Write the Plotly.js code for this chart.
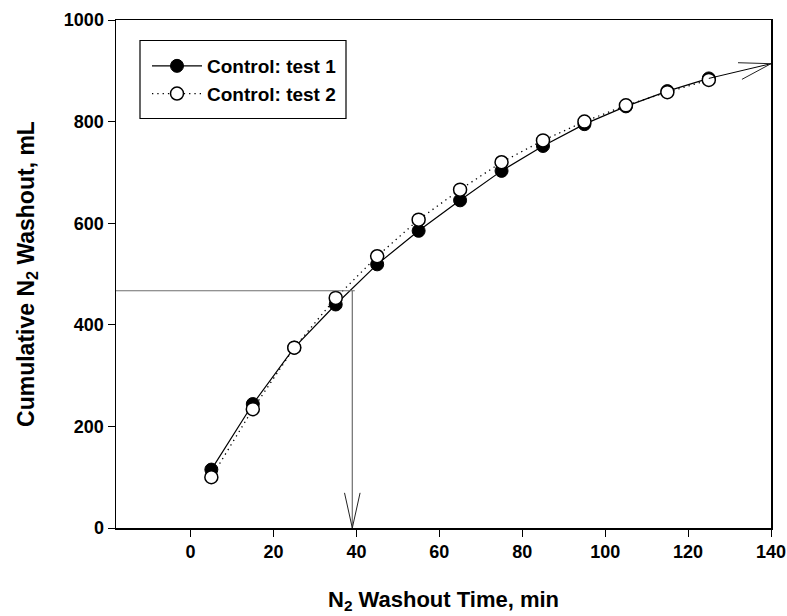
<!DOCTYPE html>
<html>
<head>
<meta charset="utf-8">
<script src="https://cdn.plot.ly/plotly-3.0.1.min.js"></script>
<style>html,body{margin:0;padding:0;background:#fff;}#chart{width:787px;height:616px;}</style>
</head>
<body>
<div id="chart"></div>
<script>
// ---- data ----
var timeMin = [5, 15, 25, 35, 45, 55, 65, 75, 85, 95, 105, 115, 125];
var test1 = [115, 244, 355, 440, 519, 585, 645, 703, 752, 795, 830, 860, 885];
var test2 = [100, 234, 355, 453, 535, 607, 666, 720, 763, 800, 832, 858, 882];
var seriesNames = ["Control: test 1", "Control: test 2"];
var xTicks = [0, 20, 40, 60, 80, 100, 120, 140];
var yTicks = [0, 200, 400, 600, 800, 1000];
// guide lines: half-volume level and its time; extrapolation arrow
var halfVolume = 467;
var halfTime = 39;
var extrapFrom = [125, 885];
var extrapTo = [140, 914];

var xRange = [-18, 140], yRange = [0, 1000];
var M = {l: 116, r: 16, t: 20, b: 88};
var W = 787 - M.l - M.r, H = 616 - M.t - M.b;
var pxX = W / (xRange[1] - xRange[0]), pxY = H / (yRange[1] - yRange[0]);

function barbs(fx, fy, tx, ty, len, ang, color) {
  var dx = (tx - fx) * pxX, dy = (ty - fy) * pxY;
  var d = Math.sqrt(dx * dx + dy * dy);
  var ux = -dx / d, uy = -dy / d;
  var out = [];
  [ang, -ang].forEach(function (a) {
    var r = a * Math.PI / 180;
    var bx = ux * Math.cos(r) - uy * Math.sin(r);
    var by = ux * Math.sin(r) + uy * Math.cos(r);
    out.push({type: 'line', xref: 'x', yref: 'y', x0: tx, y0: ty,
      x1: tx + bx * len / pxX, y1: ty + by * len / pxY,
      line: {color: color, width: 1}});
  });
  return out;
}
function px2paperX(p) { return (p - M.l) / W; }
function px2paperY(p) { return 1 - (p - M.t) / H; }

var font = {family: 'Liberation Sans, Arial, sans-serif', color: '#000', weight: 'bold'};

var traces = [
  {x: timeMin, y: test1, name: seriesNames[0], type: 'scatter', mode: 'lines+markers',
   legendgroup: 'a',
   line: {color: '#000', width: 1.2},
   marker: {symbol: 'circle', size: 13, color: '#000', line: {color: '#000', width: 1}}},
  {x: timeMin, y: test2, name: seriesNames[1], type: 'scatter', mode: 'lines+markers',
   legendgroup: 'b',
   line: {color: '#000', width: 1.3, dash: '1.3px,4px'},
   marker: {symbol: 'circle', size: 13, color: '#fff', line: {color: '#000', width: 1.5}}}
];

var shapes = [
  {type: 'line', xref: 'x', yref: 'y', x0: xRange[0], y0: halfVolume, x1: halfTime + 0.6, y1: halfVolume,
   line: {color: '#6e6e6e', width: 1.2}},
  {type: 'line', xref: 'x', yref: 'y', x0: halfTime, y0: halfVolume, x1: halfTime, y1: 0,
   line: {color: '#6e6e6e', width: 1.2}},
  {type: 'line', xref: 'x', yref: 'y', x0: extrapFrom[0], y0: extrapFrom[1], x1: extrapTo[0], y1: extrapTo[1],
   line: {color: '#000', width: 1}},
  // legend frame
  {type: 'rect', xref: 'paper', yref: 'paper',
   x0: px2paperX(140), x1: px2paperX(346), y0: px2paperY(118.5), y1: px2paperY(40.5),
   line: {color: '#000', width: 1.2}, fillcolor: 'rgba(0,0,0,0)'}
].concat(barbs(halfTime, halfVolume, halfTime, 0, 36, 12.5, '#222'))
 .concat(barbs(extrapFrom[0], extrapFrom[1], extrapTo[0], extrapTo[1], 33, 15, '#222'));

var layout = {
  width: 787, height: 616,
  margin: M,
  paper_bgcolor: '#fff', plot_bgcolor: '#fff',
  showlegend: true,
  legend: {x: px2paperX(147), y: px2paperY(47), xanchor: 'left', yanchor: 'top',
    borderwidth: 0, bgcolor: 'rgba(0,0,0,0)',
    font: Object.assign({}, font, {size: 19}),
    itemwidth: 50,
    traceorder: 'grouped', tracegroupgap: 0},
  xaxis: {range: xRange, tickvals: xTicks, ticktext: xTicks.map(String),
    showgrid: false, zeroline: false, showline: true, linecolor: '#000', linewidth: 1.5,
    mirror: true, ticks: 'outside', ticklen: 7, tickcolor: '#000', tickwidth: 1,
    tickfont: Object.assign({}, font, {size: 18}),
    title: {text: 'N<sub>2</sub> Washout Time, min', font: Object.assign({}, font, {size: 22}), standoff: 30},
    automargin: false},
  yaxis: {range: yRange, tickvals: yTicks, ticktext: yTicks.map(String),
    showgrid: false, zeroline: false, showline: true, linecolor: '#000', linewidth: 1.5,
    mirror: true, ticks: 'outside', ticklen: 7, tickcolor: '#000', tickwidth: 1,
    tickfont: Object.assign({}, font, {size: 18}),
    title: {text: 'Cumulative N<sub>2</sub> Washout, mL', font: Object.assign({}, font, {size: 23}), standoff: 23},
    automargin: false},
  shapes: shapes
};

Plotly.newPlot('chart', traces, layout, {displayModeBar: false, staticPlot: true});
</script>
</body>
</html>
